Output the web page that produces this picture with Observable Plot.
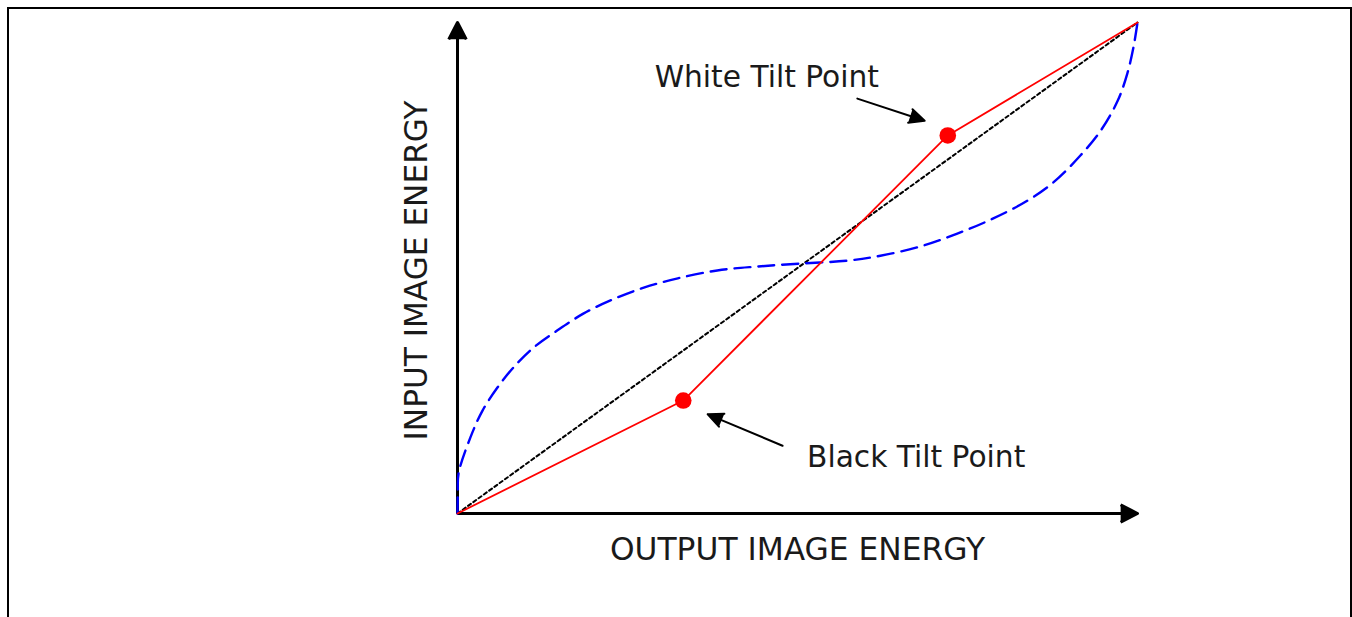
<!DOCTYPE html>
<html>
<head>
<meta charset="utf-8">
<script src="https://cdn.jsdelivr.net/npm/d3@7"></script>
<script src="https://cdn.jsdelivr.net/npm/@observablehq/plot@0.6"></script>
<style>
  html, body { margin: 0; padding: 0; background: #fff; overflow: hidden; }
  #wrap { position: relative; width: 1352px; height: 617px; }
  #frame { position: absolute; left: 7px; top: 7px; width: 1345px; height: 640px;
           box-sizing: border-box; border: 2.5px solid #000; pointer-events: none; }
  #chart svg { display: block; }
</style>
</head>
<body>
<div id="wrap">
  <div id="chart"></div>
  <div id="frame"></div>
</div>
<script>
// Identity (reference) line: output = input
const identityX = [0, 1];
const identityY = [0, 1];

// Red piecewise tilt curve: origin -> black tilt -> white tilt -> max
const tiltCurveX = [0, 0.332, 0.721, 1];
const tiltCurveY = [0, 0.230, 0.770, 1];

// Tilt points
const tiltNames = ["Black Tilt Point", "White Tilt Point"];
const tiltX = [0.332, 0.721];
const tiltY = [0.230, 0.770];

// Blue dashed S-curve
const sCurveX = [0, 0.0005, 0.0015, 0.019, 0.037, 0.059, 0.082, 0.112, 0.147, 0.185, 0.225, 0.274, 0.324, 0.382, 0.441, 0.504, 0.574, 0.622, 0.681, 0.735, 0.788, 0.838, 0.876, 0.916, 0.946, 0.971, 0.985, 0.994, 1];
const sCurveY = [0, 0.040, 0.081, 0.155, 0.210, 0.257, 0.297, 0.338, 0.373, 0.407, 0.434, 0.460, 0.479, 0.495, 0.503, 0.509, 0.515, 0.525, 0.544, 0.570, 0.601, 0.637, 0.674, 0.729, 0.780, 0.841, 0.896, 0.949, 1];

// Annotation arrows (tail -> tip), for black and white tilt points
const annX1 = [0.478, 0.588];
const annY1 = [0.138, 0.845];
const annX2 = [0.368, 0.687];
const annY2 = [0.202, 0.800];

// Annotation labels
const labelText = ["Black Tilt Point", "White Tilt Point"];
const labelX = [0.514, 0.290];
const labelY = [0.115, 0.888];

// Axis titles
const xTitle = "OUTPUT IMAGE ENERGY";
const yTitle = "INPUT IMAGE ENERGY";

const FONT = "DejaVu Sans";

const zipXY = (xs, ys) => xs.map((x, i) => ({x, y: ys[i]}));
const identity = zipXY(identityX, identityY);
const tiltCurve = zipXY(tiltCurveX, tiltCurveY);
const sCurve = zipXY(sCurveX, sCurveY);
const tilts = tiltNames.map((name, i) => ({name, x: tiltX[i], y: tiltY[i]}));
const annArrows = annX1.map((x1, i) => ({x1, y1: annY1[i], x2: annX2[i], y2: annY2[i]}));
const labels = labelText.map((t, i) => ({t, x: labelX[i], y: labelY[i]}));
const axes = [
  {x1: 0, y1: 0, x2: 1, y2: 0},
  {x1: 0, y1: 0, x2: 0, y2: 1}
];

const chart = Plot.plot({
  width: 1352,
  height: 617,
  marginLeft: 457,
  marginRight: 215,
  marginTop: 22,
  marginBottom: 104,
  x: {domain: [0, 1], axis: null},
  y: {domain: [0, 1], axis: null},
  marks: [
    // axes with filled arrow heads
    Plot.arrow(axes, {
      x1: "x1", y1: "y1", x2: "x2", y2: "y2",
      stroke: "black", fill: "black", strokeWidth: 3,
      headLength: 9.5, headAngle: 55, strokeLinejoin: "round", strokeLinecap: "butt"
    }),
    // identity dotted line
    Plot.line(identity, {x: "x", y: "y", stroke: "black", strokeWidth: 2, strokeDasharray: "3.5,3"}),
    // blue dashed S-curve
    Plot.line(sCurve, {x: "x", y: "y", stroke: "#0000ff", strokeWidth: 2.4, strokeDasharray: "16,8", curve: "catmull-rom"}),
    // red tilt curve
    Plot.line(tiltCurve, {x: "x", y: "y", stroke: "#ff0000", strokeWidth: 1.8}),
    Plot.dot(tilts, {x: "x", y: "y", r: 8.3, fill: "#ff0000", stroke: "none"}),
    // annotation arrows
    Plot.arrow(annArrows, {
      x1: "x1", y1: "y1", x2: "x2", y2: "y2",
      stroke: "black", fill: "black", strokeWidth: 2,
      headLength: 12.5, headAngle: 50, strokeLinejoin: "round"
    }),
    // annotation labels
    Plot.text(labels, {x: "x", y: "y", text: "t", textAnchor: "start", lineAnchor: "middle",
      fontSize: 29.7, fontFamily: FONT, fill: "#1a1a1a"}),
    // axis titles
    Plot.text([xTitle], {x: 0.5, y: -0.0733, text: d => d, textAnchor: "middle", lineAnchor: "middle",
      fontSize: 31.3, fontFamily: FONT, fill: "#1a1a1a"}),
    Plot.text([yTitle], {x: -0.059, y: 0.495, text: d => d, rotate: -90, textAnchor: "middle", lineAnchor: "middle",
      fontSize: 31.2, fontFamily: FONT, fill: "#1a1a1a"})
  ]
});
document.getElementById("chart").appendChild(chart);
</script>
</body>
</html>
